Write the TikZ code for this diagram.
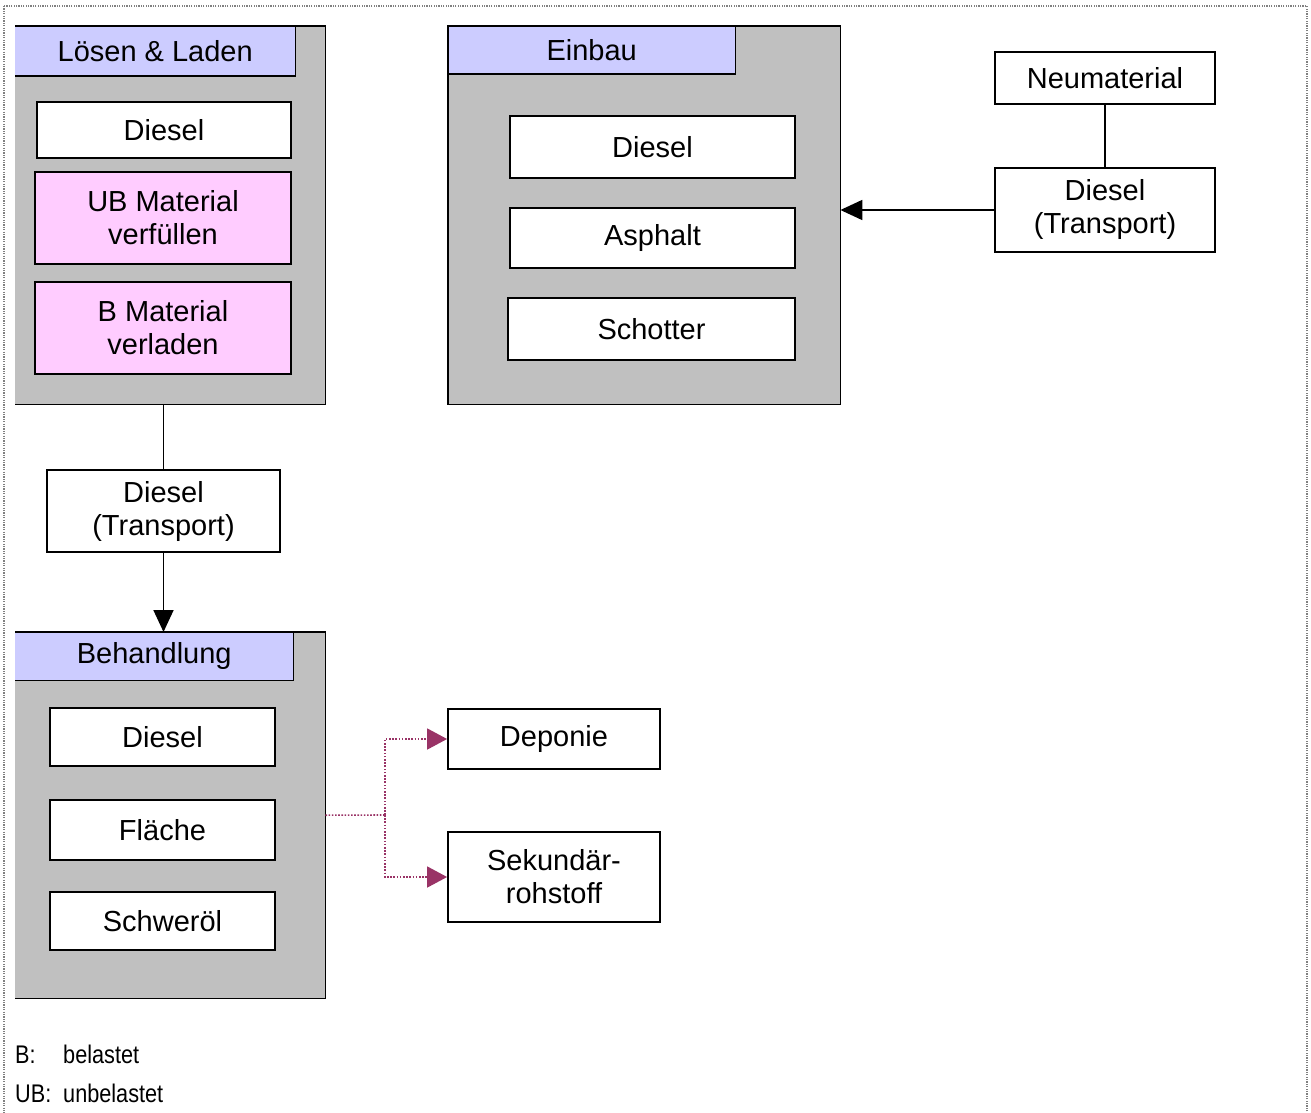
\documentclass[tikz,border=0pt]{standalone}
\usepackage{fontspec}
\setmainfont{Liberation Sans}
\newfontfamily\legendfont[FakeStretch=0.85]{Liberation Sans}
\usetikzlibrary{positioning, arrows.meta}
\definecolor{GroupGray}{RGB}{192,192,192}
\definecolor{HeadBlue}{RGB}{204,204,255}
\definecolor{MatPink}{RGB}{255,204,255}
\definecolor{FlowRed}{RGB}{153,51,102}
\newcommand{\boxfont}{\fontsize{29}{33}\selectfont}

\begin{document}
\begin{tikzpicture}[x=1pt, y=-1pt, >={Triangle[length=22pt, width=20pt]},
    group/.style={fill=GroupGray, inner sep=0pt, anchor=north west},
    head/.style={fill=HeadBlue, inner sep=0pt, anchor=north west, font=\boxfont},
    cell/.style={draw, fill=white, line width=1.8pt, inner sep=0pt, align=center, font=\boxfont},
    mat/.style={cell, fill=MatPink},
    rim/.style={line width=1.8pt},
    flow/.style={FlowRed, line width=1.6pt, dash pattern=on 1.6pt off 1.6pt},
    legend/.style={font=\legendfont\fontsize{25.5}{30}\selectfont, anchor=base west, inner sep=0pt}]
    \useasboundingbox (0,0) rectangle (1311,1113);
    % Page frame
    \draw[gray, line width=1.2pt, dash pattern=on 1.2pt off 1.2pt] (4,6) rectangle (1307,1130);
    % Loesen & Laden
    \node[group, minimum width=310, minimum height=378] (gLL) at (15,26) {};
    \draw[rim] (gLL.north west) -- (gLL.north east) -- (gLL.south east) -- (gLL.south west);
    \node[head, minimum width=280, minimum height=50] (hLL) at (15,26) {Lösen \& Laden};
    \draw[rim] (hLL.north west) -- (hLL.north east) -- (hLL.south east) -- (hLL.south west);
    \node[cell, minimum width=254, minimum height=56] (dLL) at (164,130) {Diesel};
    \node[mat, minimum width=256, minimum height=92] (uLL) at (163,218) {UB Material\\verfüllen};
    \node[mat, minimum width=256, minimum height=92] (bLL) at (163,328) {B Material\\verladen};
    % Einbau
    \node[group, minimum width=392, minimum height=378] (gE) at (448,26) {};
    \draw[rim] (gE.north west) rectangle (gE.south east);
    \node[head, minimum width=287, minimum height=48] (hE) at (448,26) {Einbau};
    \draw[rim] (hE.north west) rectangle (hE.south east);
    \node[cell, minimum width=285, minimum height=62] (dE) at (652.5,147) {Diesel};
    \node[cell, minimum width=285, minimum height=60] (aE) at (652.5,238) {Asphalt};
    \node[cell, minimum width=287, minimum height=62] (sE) at (651.5,329) {Schotter};
    % Neumaterial
    \node[cell, minimum width=220, minimum height=52] (nm) at (1105,78) {Neumaterial};
    \node[cell, minimum width=220, minimum height=84] (tR) at (1105,210) {Diesel\\(Transport)};
    % Transport to Behandlung
    \node[cell, minimum width=233, minimum height=82] (tL) at (163.5,511) {Diesel\\(Transport)};
    % Behandlung
    \node[group, minimum width=310, minimum height=366] (gB) at (15,632) {};
    \draw[rim] (gB.north west) -- (gB.north east) -- (gB.south east) -- (gB.south west);
    \node[head, minimum width=278, minimum height=48] (hB) at (15,632) {Behandlung};
    \draw[rim] (hB.north west) -- (hB.north east) -- (hB.south east) -- (hB.south west);
    \node[cell, minimum width=225, minimum height=58] (dB) at (162.5,737) {Diesel};
    \node[cell, minimum width=225, minimum height=60] (fB) at (162.5,830) {Fläche};
    \node[cell, minimum width=225, minimum height=58] (sB) at (162.5,921) {Schweröl};
    % Outputs
    \node[cell, minimum width=212, minimum height=60] (dep) at (554,739) {Deponie};
    \node[cell, minimum width=212, minimum height=90] (sek) at (554,877) {Sekundär-\\rohstoff};
    % Connectors
    \draw[rim] (tL.north |- gLL.south) -- (tL.north);
    \draw[rim, ->] (tL.south) -- (tL.south |- gB.north);
    \draw[rim] (nm.south) -- (tR.north);
    \draw[rim, ->] (tR.west) -- (tR.west -| gE.east);
    \coordinate (split) at (385,815);
    \draw[flow] (gB.east) -- (split);
    \draw[flow, -{Triangle[length=20pt, width=21pt]}] (split) |- (dep.west);
    \draw[flow, -{Triangle[length=20pt, width=21pt]}] (split) |- (sek.west);
    % Legend
    \node[legend] (lgB) at (15,1063) {B:};
    \node[legend] (lgBt) at (63,1063) {belastet};
    \node[legend] (lgUB) at (15,1102) {UB:};
    \node[legend] (lgUBt) at (63,1102) {unbelastet};
\end{tikzpicture}
\end{document}
